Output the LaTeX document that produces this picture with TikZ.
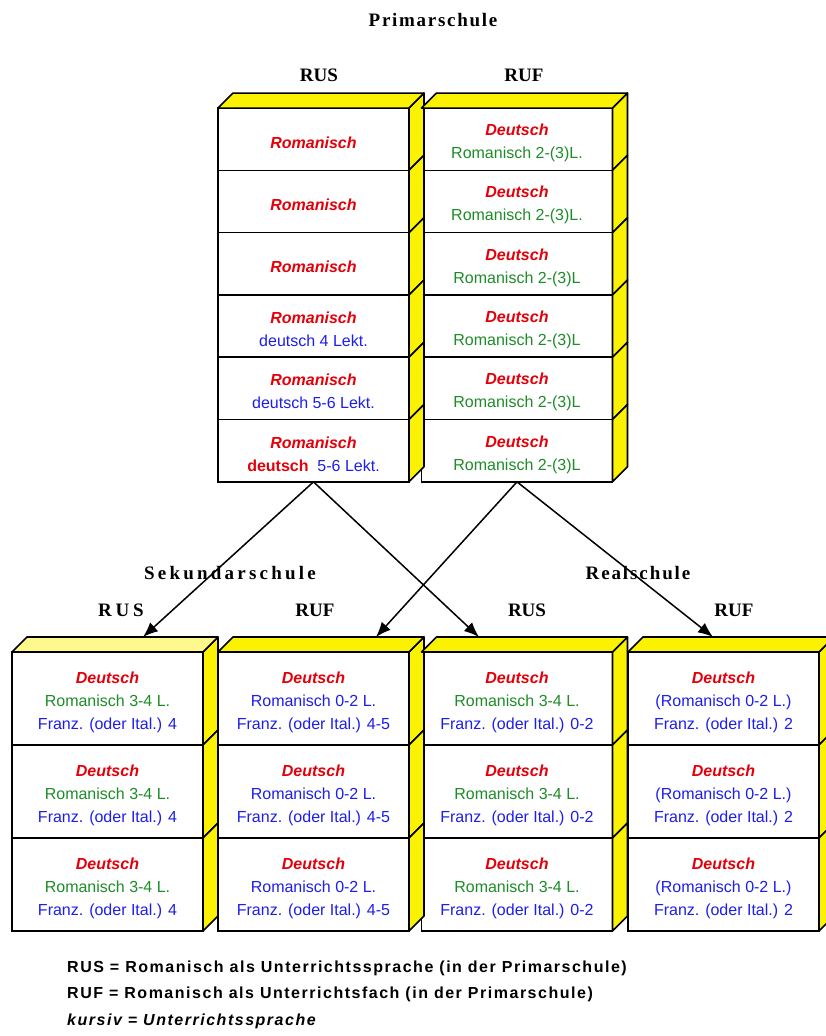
\documentclass[tikz,border=0pt]{standalone}
\usepackage{fontspec}
\setmainfont{Liberation Sans}
\newfontfamily\headfont{Liberation Serif}
\usepackage{tikz}
\usepackage{color}
\usetikzlibrary{calc,arrows.meta}
\definecolor{rred}{RGB}{228,0,10}
\definecolor{rgreen}{RGB}{30,140,40}
\definecolor{rblue}{RGB}{30,30,235}
\definecolor{ryellow}{RGB}{250,242,0}
\definecolor{rlight}{RGB}{255,248,140}
\newcommand{\Rom}{\rule{0pt}{18pt}\textcolor{rred}{\textbf{\textit{Romanisch}}}}
\newcommand{\Deu}{\rule{0pt}{19pt}\textcolor{rred}{\textbf{\textit{Deutsch}}}}

\begin{document}
\begin{tikzpicture}[x=1pt,y=-1pt]
        \tikzstyle{cell}=[draw,fill=white,line width=1.6pt,minimum width=191pt,minimum height=62.3pt,inner sep=0pt,outer sep=0pt,align=center,font=\fontsize{16}{23}\selectfont,node distance=62.3pt]
        \tikzstyle{low cell}=[cell,minimum height=93pt,node distance=93pt]
        \tikzstyle{side}=[draw,fill=ryellow,line width=1.6pt,line join=round]
        \tikzstyle{head}=[font=\headfont\bfseries\fontsize{19}{19}\selectfont]
        \tikzstyle{arrow}=[-{Latex[length=15pt,width=12pt]},line width=1.5pt]
        \tikzstyle{legend}=[anchor=base west,inner sep=0pt,font=\bfseries\fontsize{16}{16}\selectfont\addfontfeatures{LetterSpace=9.5}]
        \useasboundingbox (0,0) rectangle (825,1036);

        \node[cell] (rus1) at (313.5,139.2) {\Rom};
        \node[cell] (rus2) [below of=rus1] {\Rom};
        \node[cell] (rus3) [below of=rus2] {\Rom};
        \node[cell] (rus4) [below of=rus3] {\Rom\\\textcolor{rblue}{deutsch 4 Lekt.}};
        \node[cell] (rus5) [below of=rus4] {\Rom\\\textcolor{rblue}{deutsch 5-6 Lekt.}};
        \node[cell] (rus6) [below of=rus5] {\Rom\\\textcolor{rred}{\textbf{deutsch}}\ \ \textcolor{rblue}{5-6 Lekt.}};

        \node[cell] (ruf1) at (517,139.2) {\Deu\\\textcolor{rgreen}{Romanisch 2-(3)L.}};
        \node[cell] (ruf2) [below of=ruf1] {\Deu\\\textcolor{rgreen}{Romanisch 2-(3)L.}};
        \node[cell] (ruf3) [below of=ruf2] {\Deu\\\textcolor{rgreen}{Romanisch 2-(3)L}};
        \node[cell] (ruf4) [below of=ruf3] {\Deu\\\textcolor{rgreen}{Romanisch 2-(3)L}};
        \node[cell] (ruf5) [below of=ruf4] {\Deu\\\textcolor{rgreen}{Romanisch 2-(3)L}};
        \node[cell] (ruf6) [below of=ruf5] {\Deu\\\textcolor{rgreen}{Romanisch 2-(3)L}};

        \node[low cell] (srus1) at (107.5,698.5) {\Deu\\\textcolor{rgreen}{Romanisch 3-4 L.}\\\textcolor{rblue}{Franz. (oder Ital.) 4}};
        \node[low cell] (srus2) [below of=srus1] {\Deu\\\textcolor{rgreen}{Romanisch 3-4 L.}\\\textcolor{rblue}{Franz. (oder Ital.) 4}};
        \node[low cell] (srus3) [below of=srus2] {\Deu\\\textcolor{rgreen}{Romanisch 3-4 L.}\\\textcolor{rblue}{Franz. (oder Ital.) 4}};

        \node[low cell] (sruf1) at (313.5,698.5) {\Deu\\\textcolor{rblue}{Romanisch 0-2 L.}\\\textcolor{rblue}{Franz. (oder Ital.) 4-5}};
        \node[low cell] (sruf2) [below of=sruf1] {\Deu\\\textcolor{rblue}{Romanisch 0-2 L.}\\\textcolor{rblue}{Franz. (oder Ital.) 4-5}};
        \node[low cell] (sruf3) [below of=sruf2] {\Deu\\\textcolor{rblue}{Romanisch 0-2 L.}\\\textcolor{rblue}{Franz. (oder Ital.) 4-5}};

        \node[low cell] (rrus1) at (517,698.5) {\Deu\\\textcolor{rgreen}{Romanisch 3-4 L.}\\\textcolor{rblue}{Franz. (oder Ital.) 0-2}};
        \node[low cell] (rrus2) [below of=rrus1] {\Deu\\\textcolor{rgreen}{Romanisch 3-4 L.}\\\textcolor{rblue}{Franz. (oder Ital.) 0-2}};
        \node[low cell] (rrus3) [below of=rrus2] {\Deu\\\textcolor{rgreen}{Romanisch 3-4 L.}\\\textcolor{rblue}{Franz. (oder Ital.) 0-2}};

        \node[low cell] (rruf1) at (723.5,698.5) {\Deu\\\textcolor{rblue}{(Romanisch 0-2 L.)}\\\textcolor{rblue}{Franz. (oder Ital.) 2}};
        \node[low cell] (rruf2) [below of=rruf1] {\Deu\\\textcolor{rblue}{(Romanisch 0-2 L.)}\\\textcolor{rblue}{Franz. (oder Ital.) 2}};
        \node[low cell] (rruf3) [below of=rruf2] {\Deu\\\textcolor{rblue}{(Romanisch 0-2 L.)}\\\textcolor{rblue}{Franz. (oder Ital.) 2}};

        \foreach \c in {rus,ruf}
            \foreach \i in {1,...,6}
                \draw[side] (\c\i.north east) -- ++(15,-15) -- ($(\c\i.south east)+(15,-15)$) -- (\c\i.south east) -- cycle;
        \foreach \c in {srus,sruf,rrus,rruf}
            \foreach \i in {1,2,3}
                \draw[side] (\c\i.north east) -- ++(15,-15) -- ($(\c\i.south east)+(15,-15)$) -- (\c\i.south east) -- cycle;
        \foreach \c in {rus1,ruf1,sruf1,rrus1,rruf1}
            \draw[side] (\c.north west) -- ++(15,-15) -- ($(\c.north east)+(15,-15)$) -- (\c.north east) -- cycle;
        \draw[side,fill=rlight] (srus1.north west) -- ++(15,-15) -- ($(srus1.north east)+(15,-15)$) -- (srus1.north east) -- cycle;

        \node[head] (prim) at (433,20) {\addfontfeatures{LetterSpace=9}Primarschule};
        \node[head] (primRUS) at (319,75) {RUS};
        \node[head] (primRUF) at (524,75) {RUF};
        \node[head] (sek) at (230,573) {\addfontfeatures{LetterSpace=17}Sekundarschule};
        \node[head] (real) at (638,573) {\addfontfeatures{LetterSpace=10}Realschule};
        \node[head] (sekRUS) at (121,610) {\addfontfeatures{LetterSpace=20}RUS};
        \node[head] (sekRUF) at (315,610) {RUF};
        \node[head] (realRUS) at (527,610) {RUS};
        \node[head] (realRUF) at (734,610) {RUF};

        \coordinate (toSekRUS) at (143,637);
        \coordinate (toSekRUF) at (376,637);
        \coordinate (toRealRUS) at (479,637);
        \coordinate (toRealRUF) at (713,637);
        \draw[arrow] (rus6.south) -- (toSekRUS);
        \draw[arrow] (rus6.south) -- (toRealRUS);
        \draw[arrow] (ruf6.south) -- (toSekRUF);
        \draw[arrow] (ruf6.south) -- (toRealRUF);

        \node[legend] (leg1) at (67,972) {RUS = Romanisch als Unterrichtssprache (in der Primarschule)};
        \node[legend] (leg2) at (67,998) {RUF = Romanisch als Unterrichtsfach (in der Primarschule)};
        \node[legend] (leg3) at (67,1025) {\itshape kursiv = Unterrichtssprache};
\end{tikzpicture}
\end{document}
